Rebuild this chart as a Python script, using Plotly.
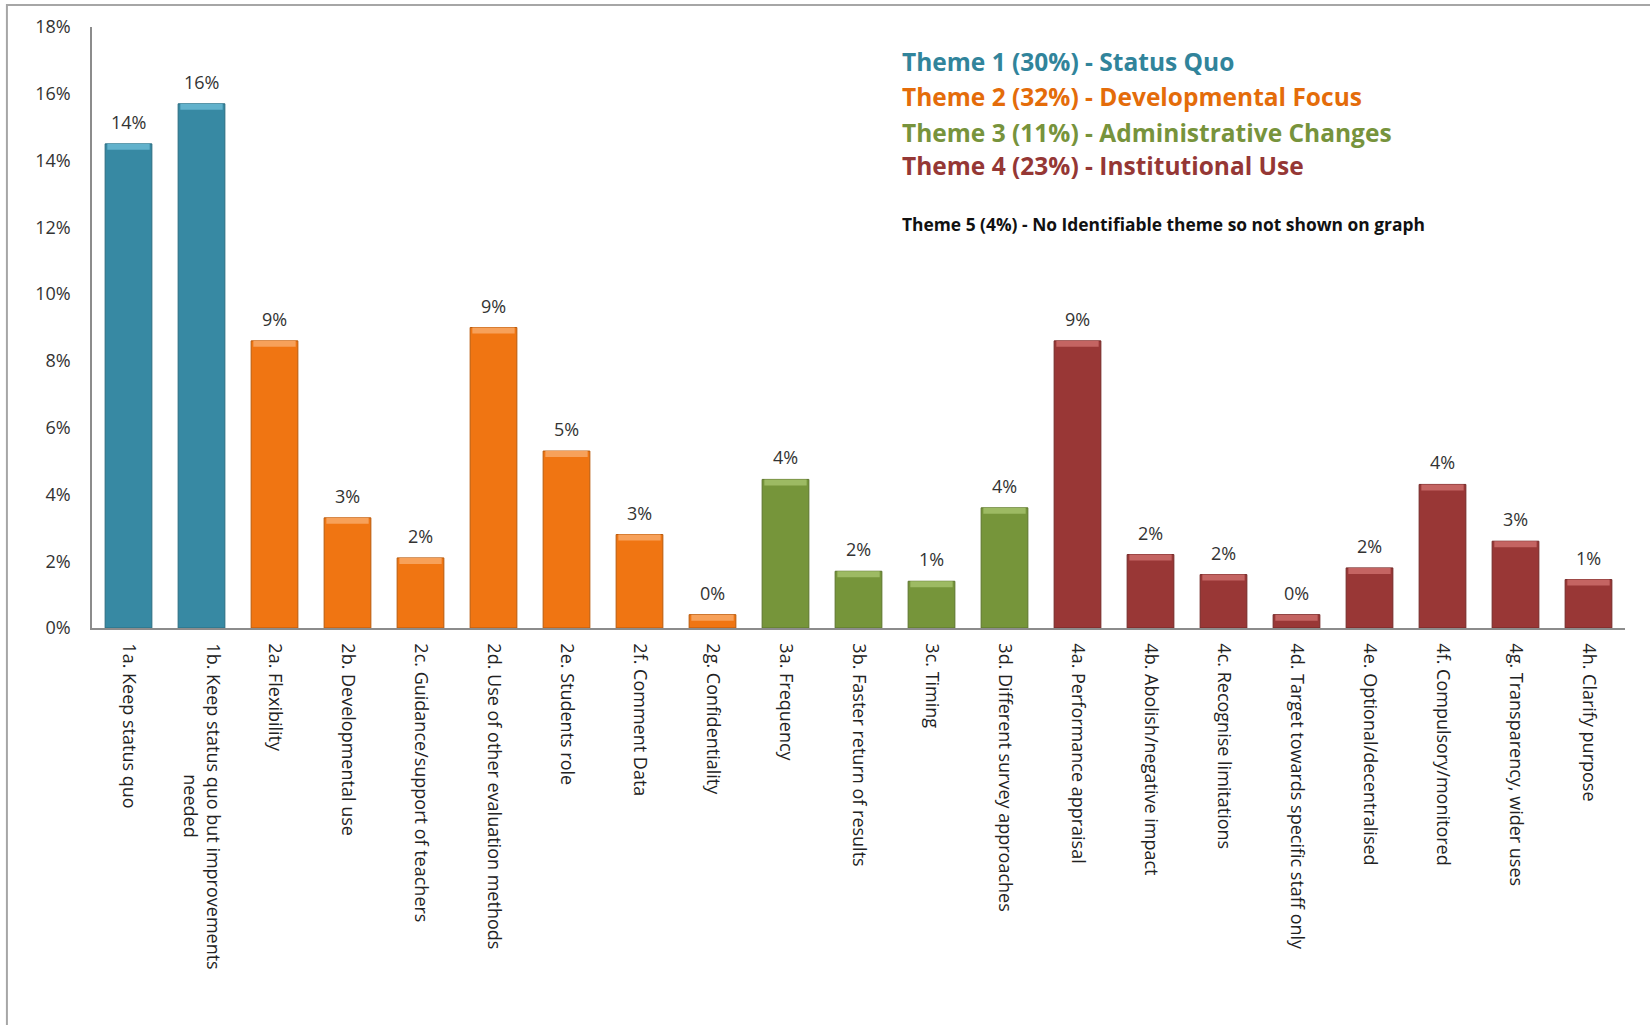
import plotly.graph_objects as go

NB = "\u00a0"
categories = [
    "1a. Keep status quo",
    "1b. Keep status quo but improvements<br>" + NB * 28 + "needed",
    "2a. Flexibility",
    "2b. Developmental use",
    "2c. Guidance/support of teachers",
    "2d. Use of other evaluation methods",
    "2e. Students role",
    "2f. Comment Data",
    "2g. Confidentiality",
    "3a. Frequency",
    "3b. Faster return of results",
    "3c. Timing",
    "3d. Different survey approaches",
    "4a. Performance appraisal",
    "4b. Abolish/negative impact",
    "4c. Recognise limitations",
    "4d. Target towards specific staff only",
    "4e. Optional/decentralised",
    "4f. Compulsory/monitored",
    "4g. Transparency, wider uses",
    "4h. Clarify purpose",
]
values = [14.5, 15.7, 8.6, 3.3, 2.1, 9.0, 5.3, 2.8, 0.4,
          4.45, 1.7, 1.4, 3.6,
          8.6, 2.2, 1.6, 0.4, 1.8, 4.3, 2.6, 1.45]
bar_labels = ["14%", "16%", "9%", "3%", "2%", "9%", "5%", "3%", "0%",
              "4%", "2%", "1%", "4%",
              "9%", "2%", "2%", "0%", "2%", "4%", "3%", "1%"]
themes = [1, 1, 2, 2, 2, 2, 2, 2, 2, 3, 3, 3, 3, 4, 4, 4, 4, 4, 4, 4, 4]

y_ticks = [0, 2, 4, 6, 8, 10, 12, 14, 16, 18]
y_ticktext = ["0%", "2%", "4%", "6%", "8%", "10%", "12%", "14%", "16%", "18%"]

theme_titles = [
    "Theme 1 (30%) - Status Quo",
    "Theme 2 (32%) - Developmental Focus",
    "Theme 3 (11%) - Administrative Changes",
    "Theme 4 (23%) - Institutional Use",
]
theme5_note = "Theme 5 (4%) - No Identifiable theme so not shown on graph"

bar_colors = {1: "#3789A3", 2: "#F07512", 3: "#76953A", 4: "#993736"}
edge_colors = {1: "#2A6C80", 2: "#B85A0C", 3: "#5C742C", 4: "#742827"}
cap_colors = {1: "#62B2CC", 2: "#F7A15A", 3: "#9DBA63", 4: "#C46462"}
text_colors = {1: "#31849B", 2: "#E46C0A", 3: "#77933C", 4: "#953735"}

FONT = "Open Sans"

fig = go.Figure()
fig.add_trace(go.Bar(
    x=categories, y=values,
    marker=dict(color=[bar_colors[t] for t in themes],
                line=dict(color=[edge_colors[t] for t in themes], width=1)),
    width=0.64, hoverinfo="x+y", showlegend=False,
))
cap = 0.18
fig.add_trace(go.Bar(
    x=categories, y=[cap] * len(values), base=[v - cap for v in values],
    marker=dict(color=[cap_colors[t] for t in themes], line=dict(width=0)),
    width=0.58, hoverinfo="skip", showlegend=False,
))

annotations = []
for c, v, lab in zip(categories, values, bar_labels):
    annotations.append(dict(x=c, y=v, xref="x", yref="y", text=lab, showarrow=False,
                            yanchor="bottom", yshift=8,
                            font=dict(family=FONT, size=18, color="#333333")))

ys = [0.943, 0.884, 0.825, 0.769]
for i, (title, yy) in enumerate(zip(theme_titles, ys)):
    annotations.append(dict(x=0.527, y=yy, xref="paper", yref="paper", text="<b>" + title + "</b>",
                            showarrow=False, xanchor="left", yanchor="middle",
                            font=dict(family=FONT, size=24.5, color=text_colors[i + 1])))
annotations.append(dict(x=0.527, y=0.672, xref="paper", yref="paper", text="<b>" + theme5_note + "</b>",
                        showarrow=False, xanchor="left", yanchor="middle",
                        font=dict(family=FONT, size=17.4, color="#111111")))

fig.update_layout(
    width=1650, height=1025,
    margin=dict(l=92, r=25, t=27, b=397),
    paper_bgcolor="white", plot_bgcolor="white",
    barmode="overlay",
    annotations=annotations,
    shapes=[dict(type="rect", xref="paper", yref="paper",
                 x0=-0.0555, x1=1.03, y0=-0.70, y1=1.0366,
                 line=dict(color="#A6A6A6", width=2), layer="below")],
)
fig.update_xaxes(
    tickangle=90, showline=True, linecolor="#8C8C8C", linewidth=1.5,
    showgrid=False, ticks="", ticklabelstandoff=10,
    tickfont=dict(family=FONT, size=18, color="#222222"),
)
fig.update_yaxes(
    range=[0, 18], tickvals=y_ticks, ticktext=y_ticktext,
    showline=True, linecolor="#8C8C8C", linewidth=1.5,
    showgrid=False, ticks="", ticklabelstandoff=16, zeroline=False,
    tickfont=dict(family=FONT, size=18, color="#333333"),
)

fig.write_html("out.html")
